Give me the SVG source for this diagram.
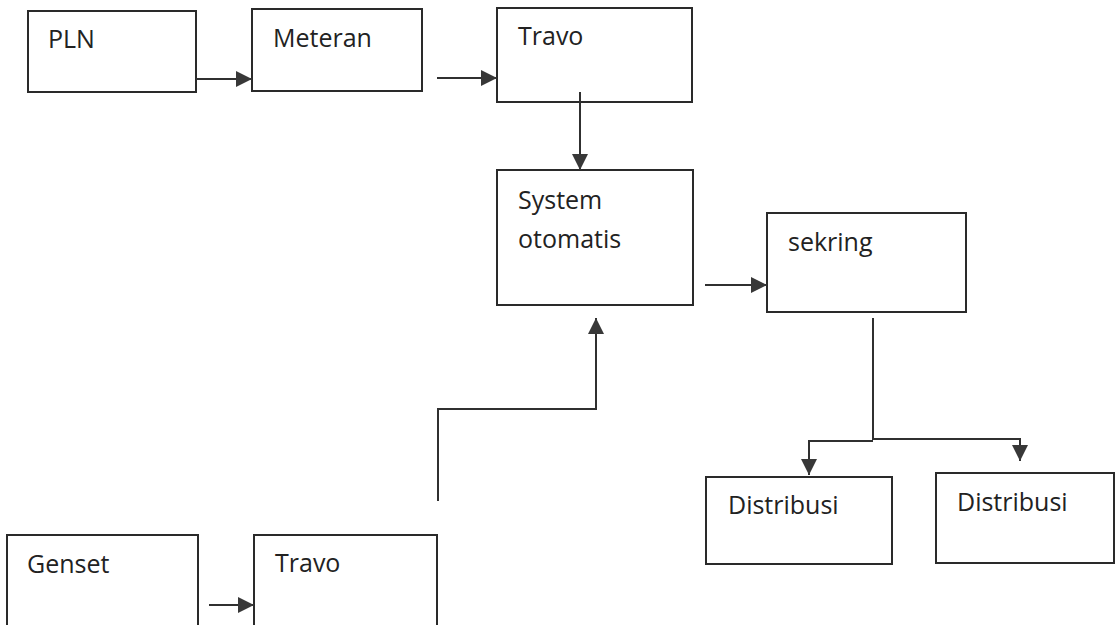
<svg xmlns="http://www.w3.org/2000/svg" width="1117" height="625" viewBox="0 0 1117 625">
  <defs>
    <marker id="arrow" markerWidth="18" markerHeight="18" refX="16" refY="8" orient="auto" markerUnits="userSpaceOnUse">
      <path d="M0,0 L16,8 L0,16 Z" fill="#383838"/>
    </marker>
    <style>
      .box { fill: #ffffff; stroke: #2a2a2a; stroke-width: 2; }
      .label { font-family: "Open Sans", "Noto Sans", sans-serif; font-size: 25px; fill: #222222; }
      .wire { fill: none; stroke: #303030; stroke-width: 2; }
      .arrow { marker-end: url(#arrow); }
    </style>
  </defs>

  <rect width="1117" height="625" fill="#ffffff"/>

  <!-- PLN supply chain -->
  <g id="node-pln">
    <rect class="box" x="28" y="11" width="168" height="81"/>
    <text class="label" x="48" y="48">PLN</text>
  </g>
  <g id="node-meteran">
    <rect class="box" x="252" y="9" width="170" height="82"/>
    <text class="label" x="273" y="47">Meteran</text>
  </g>
  <g id="node-travo-pln">
    <rect class="box" x="497" y="8" width="195" height="94"/>
    <text class="label" x="518" y="45">Travo</text>
  </g>

  <!-- switching and protection -->
  <g id="node-system">
    <rect class="box" x="497" y="170" width="196" height="135"/>
    <text class="label" x="518" y="209">System</text>
    <text class="label" x="518" y="248">otomatis</text>
  </g>
  <g id="node-sekring">
    <rect class="box" x="767" y="213" width="199" height="99"/>
    <text class="label" x="788" y="251">sekring</text>
  </g>

  <!-- outputs -->
  <g id="node-distribusi-1">
    <rect class="box" x="706" y="477" width="186" height="87"/>
    <text class="label" x="728" y="514">Distribusi</text>
  </g>
  <g id="node-distribusi-2">
    <rect class="box" x="936" y="473" width="178" height="90"/>
    <text class="label" x="957" y="511">Distribusi</text>
  </g>

  <!-- generator supply chain -->
  <g id="node-genset">
    <rect class="box" x="7" y="535" width="191" height="100"/>
    <text class="label" x="27" y="573">Genset</text>
  </g>
  <g id="node-travo-genset">
    <rect class="box" x="254" y="535" width="183" height="100"/>
    <text class="label" x="275" y="572">Travo</text>
  </g>

  <!-- connectors -->
  <g id="connectors">
    <path class="wire arrow" d="M196,79 L252,79"/>
    <path class="wire arrow" d="M437,78 L497,78"/>
    <path class="wire arrow" d="M580,92 L580,170"/>
    <path class="wire arrow" d="M705,285 L767,285"/>
    <path class="wire" d="M873,318 L873,440"/>
    <path class="wire arrow" d="M873,441 L809,441 L809,475"/>
    <path class="wire arrow" d="M873,439 L1020,439 L1020,461"/>
    <path class="wire arrow" d="M209,605 L254,605"/>
    <path class="wire arrow" d="M438,501 L438,409 L596,409 L596,318"/>
  </g>
</svg>
